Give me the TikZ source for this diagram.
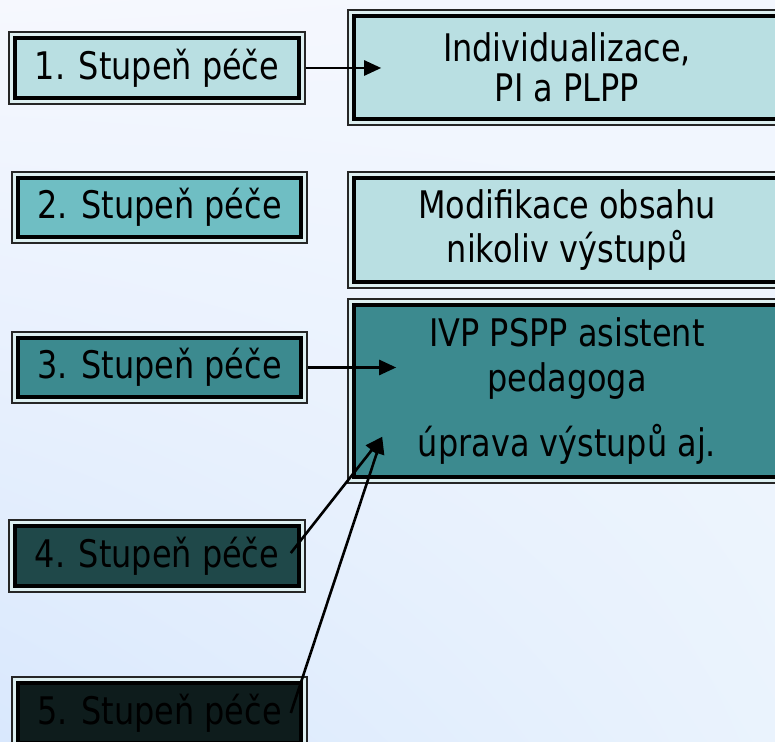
\documentclass[tikz,border=0pt]{standalone}
\usepackage{fontspec}
\setmainfont{DejaVu Sans}[FakeStretch=0.84]
\usetikzlibrary{arrows.meta,calc,shadings}
\definecolor{gapc}{HTML}{DDEFF0}
\definecolor{cA}{HTML}{B9DFE2}
\definecolor{cB}{HTML}{6FBEC3}
\definecolor{cC}{HTML}{3C8A8F}
\definecolor{cD}{HTML}{1F4849}
\definecolor{cE}{HTML}{0E1C1C}
\definecolor{bgA}{HTML}{F6F8FE}
\definecolor{bgB}{HTML}{F3F7FE}
\definecolor{bgC}{HTML}{D9E8FD}
\definecolor{bgD}{HTML}{EAF3FD}
\begin{document}
\begin{tikzpicture}[x=1pt,y=1pt,
  stbox/.style={rectangle, draw=black!85, line width=1.6pt, fill=gapc, inner sep=0pt,
    align=center, font=\fontsize{38}{44}\selectfont,
    path picture={\draw[black, line width=4.5pt, fill=#1]
      ([shift={(5.8pt,5.8pt)}]path picture bounding box.south west) rectangle
      ([shift={(-5.8pt,-5.8pt)}]path picture bounding box.north east);}},
  conn/.style={-{Triangle[length=17pt,width=15pt]}, line width=2.6pt, black}]
\useasboundingbox (0,0) rectangle (775,741);
\clip (0,0) rectangle (775,741);
\shade[upper left=bgA, upper right=bgB, lower left=bgC, lower right=bgD] (0,0) rectangle (775,741);

\node[stbox=cA, minimum width=296pt, minimum height=72pt] (s1) at (157,673) {1. Stupeň péče};
\node[stbox=cB, minimum width=295pt, minimum height=71pt] (s2) at (159.5,533.5) {2. Stupeň péče};
\node[stbox=cC, minimum width=295pt, minimum height=71pt] (s3) at (159.5,373.5) {3. Stupeň péče};
\node[stbox=cD, minimum width=296pt, minimum height=72pt] (s4) at (157,185) {4. Stupeň péče};
\node[stbox=cE, minimum width=295pt, minimum height=72pt] (s5) at (159.5,28) {5. Stupeň péče};

\node[stbox=cA, minimum width=438pt, minimum height=115pt] (r1) at (567,673.5) {Individualizace,\\[-4pt]PI a PLPP};
\node[stbox=cA, minimum width=438pt, minimum height=116pt] (r2) at (567,511) {Modifikace obsahu\\nikoliv výstupů};
\node[stbox=cC, minimum width=438pt, minimum height=184pt] (r3) at (567,350) {IVP PSPP asistent\\[1pt]pedagoga\\[21pt]úprava výstupů aj.};

\coordinate (t1) at ($(r1.west)+(34,0)$);
\coordinate (t3) at ($(r3.west)+(49,0)$);
\coordinate (t4) at ($(r3.south west)+(35,47)$);
\coordinate (a4) at ($(s4.east)+(-15,3)$);
\coordinate (a5) at ($(s5.east)+(-17,0)$);

\draw[conn] (s1.east) -- (s1.east -| t1);
\draw[conn] (s3.east) -- (s3.east -| t3);
\draw[conn] (a4) -- (t4);
\draw[conn] (a5) -- (t4);
\end{tikzpicture}
\end{document}
